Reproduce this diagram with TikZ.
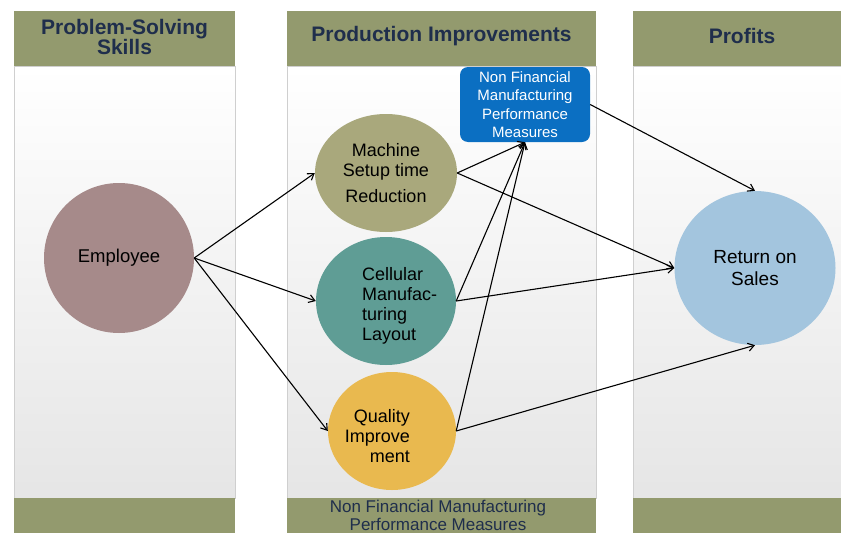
\documentclass[tikz,border=0pt]{standalone}
\usepackage{fontspec}
\setmainfont{Liberation Sans}
\usetikzlibrary{shapes.geometric,arrows.meta}
\definecolor{hdr}{HTML}{939A6E}
\definecolor{hdrtxt}{HTML}{1F2E4C}
\definecolor{empc}{HTML}{A68A8A}
\definecolor{machc}{HTML}{A9A87C}
\definecolor{cellc}{HTML}{5F9D95}
\definecolor{qualc}{HTML}{E9B94F}
\definecolor{rosc}{HTML}{A3C5DE}
\definecolor{nfc}{HTML}{0B6FC2}
\definecolor{colborder}{HTML}{CFCFCF}
\tikzset{
  colbody/.style={draw=colborder, line width=1pt, top color=white, bottom color=black!10},
  hdrbox/.style={fill=hdr, draw=none},
  hdrtext/.style={text=hdrtxt, font=\fontsize{21}{20}\selectfont\bfseries, align=center},
  bubble/.style={ellipse, draw=none, inner sep=0pt, font=\fontsize{18.5}{20}\selectfont, align=center},
  btext/.style={font=\fontsize{18}{20}\selectfont},
  arr/.style={-{Straight Barb[length=6pt,width=8pt]}, line width=1.1pt, black},
}
\begin{document}
\begin{tikzpicture}[x=1pt,y=-1pt]
\useasboundingbox (0,0) rectangle (841,533);
% columns
\foreach \a/\b in {14/235, 287/596, 633/841}{
  \path[colbody] (\a,66) rectangle (\b,498);
  \path[hdrbox] (\a,11) rectangle (\b,66);
  \path[hdrbox] (\a,498) rectangle (\b,533);
}
\node[hdrtext] (h1) at (124.5,37) {Problem-Solving\\Skills};
\node[hdrtext] (h2) at (441.5,36) {Production Improvements};
\node[hdrtext] (h3) at (742,36) {Profits};
\node[text=hdrtxt, font=\fontsize{17}{18}\selectfont, align=center, inner sep=0pt] (f2) at (438,515) {Non Financial Manufacturing\\Performance Measures};
% nodes
\node[bubble, fill=empc, minimum width=150pt, minimum height=150pt] (emp) at (119,258) {Employee};
\node[bubble, fill=machc, minimum width=142pt, minimum height=118pt, font=\fontsize{18}{20}\selectfont] (mach) at (386,173) {Machine\\Setup time\\[6pt]Reduction};
\node[bubble, fill=cellc, minimum width=140pt, minimum height=128pt] (cell) at (386,301) {};
\node[btext, align=left, anchor=north west, inner sep=0pt] (celltxt) at (362,267) {Cellular\\Manufac-\\turing\\Layout};
\node[bubble, fill=qualc, minimum width=128pt, minimum height=118pt] (qual) at (392,431) {};
\node[btext, align=right, anchor=north east, inner sep=0pt] (qualtxt) at (410,409) {Quality\\Improve\\ment};
\node[bubble, fill=rosc, minimum width=161pt, minimum height=154pt, font=\fontsize{19}{22}\selectfont] (ros) at (755,268) {Return on\\Sales};
\node[rectangle, rounded corners=8pt, fill=nfc, draw=none, minimum width=130pt, minimum height=75pt, inner sep=0pt, text=white, font=\fontsize{15}{18.5}\selectfont, align=center] (nf) at (525,104.5) {Non Financial\\Manufacturing\\Performance\\Measures};
% connectors
\draw[arr] (emp.east) -- (mach.west);
\draw[arr] (emp.east) -- (cell.west);
\draw[arr] (emp.east) -- (qual.west);
\draw[arr] (mach.east) -- (nf.south);
\draw[arr] (mach.east) -- (ros.west);
\draw[arr] (cell.east) -- (nf.south);
\draw[arr] (cell.east) -- (ros.west);
\draw[arr] (qual.east) -- (nf.south);
\draw[arr] (qual.east) -- (ros.south);
\draw[arr] (nf.east) -- (ros.north);
\end{tikzpicture}
\end{document}
